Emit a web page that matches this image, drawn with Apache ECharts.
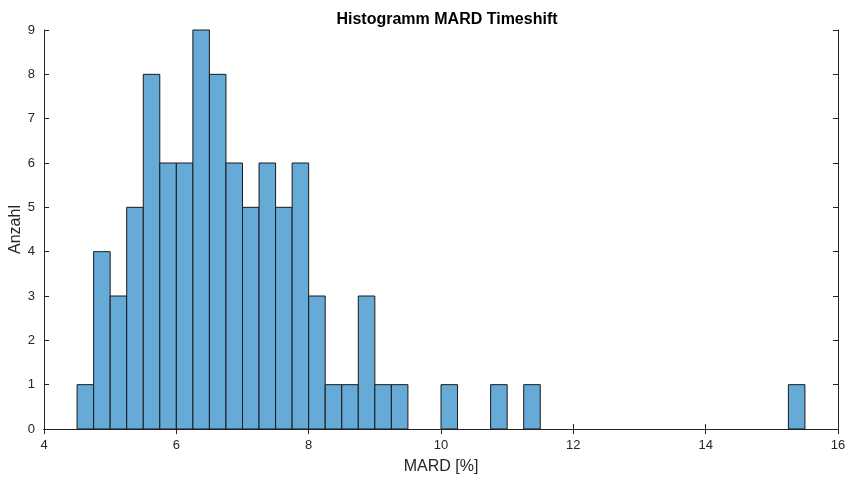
<!DOCTYPE html>
<html><head><meta charset="utf-8">
<script src="https://cdn.jsdelivr.net/npm/echarts@6/dist/echarts.min.js"></script>
<style>html,body{margin:0;padding:0;background:#fff}#c{width:850px;height:479px}</style>
</head><body><div id="c"></div>
<script>
const binWidth = 0.25;
const binLefts = [4.5,4.75,5.0,5.25,5.5,5.75,6.0,6.25,6.5,6.75,7.0,7.25,7.5,7.75,8.0,8.25,8.5,8.75,9.0,9.25,10.0,10.75,11.25,15.25];
const binCounts = [1,4,3,5,8,6,6,9,8,6,5,6,5,6,3,1,1,3,1,1,1,1,1,1];
const xTicks = [4,6,8,10,12,14,16];
const yTicks = [0,1,2,3,4,5,6,7,8,9];

const data = binLefts.map((l,i)=>[l, l+binWidth, binCounts[i]]);
const txt = '#262626';
const font = 'Liberation Sans, Arial, sans-serif';
const axisCommon = {
  axisLine:{show:true,lineStyle:{color:txt,width:1}},
  axisTick:{show:true,inside:true,length:5,lineStyle:{color:txt}},
  splitLine:{show:false}
};
const chart = echarts.init(document.getElementById('c'));
chart.setOption({
  animation:false,
  title:{text:'Histogramm MARD Timeshift',left:442,top:7,textAlign:'center',
    textStyle:{fontFamily:font,fontSize:16,fontWeight:'bold',color:'#000'}},
  grid:{left:44,right:12,top:30,bottom:50,containLabel:false,outerBoundsMode:'none'},
  xAxis:[
    Object.assign({type:'value',min:xTicks[0],max:xTicks[xTicks.length-1],interval:2,position:'bottom',
      name:'MARD [%]',nameLocation:'middle',nameGap:30,nameMoveOverlap:false,
      nameTextStyle:{fontFamily:font,fontSize:16,color:txt},
      axisLabel:{fontFamily:font,fontSize:13,color:txt,margin:10}},axisCommon),
    Object.assign({type:'value',min:xTicks[0],max:xTicks[xTicks.length-1],interval:2,position:'top',
      axisLabel:{show:false}},axisCommon)
  ],
  yAxis:[
    Object.assign({type:'value',min:yTicks[0],max:yTicks[yTicks.length-1],interval:1,position:'left',
      name:'Anzahl',nameLocation:'middle',nameGap:20,nameMoveOverlap:false,
      nameTextStyle:{fontFamily:font,fontSize:16,color:txt},
      axisLabel:{fontFamily:font,fontSize:13,color:txt,margin:9}},axisCommon),
    Object.assign({type:'value',min:yTicks[0],max:yTicks[yTicks.length-1],interval:1,position:'right',
      axisLabel:{show:false}},axisCommon)
  ],
  series:[{
    type:'custom',
    xAxisIndex:0,yAxisIndex:0,
    data:data,
    renderItem:function(params,api){
      const p0 = api.coord([api.value(0),0]);
      const p1 = api.coord([api.value(1),api.value(2)]);
      return {type:'rect',
        shape:{x:p0[0],y:p1[1],width:p1[0]-p0[0],height:p0[1]-p1[1]},
        style:{fill:'#66AAD7',stroke:'#1a1a1a',lineWidth:1}};
    }
  }]
});
</script></body></html>
